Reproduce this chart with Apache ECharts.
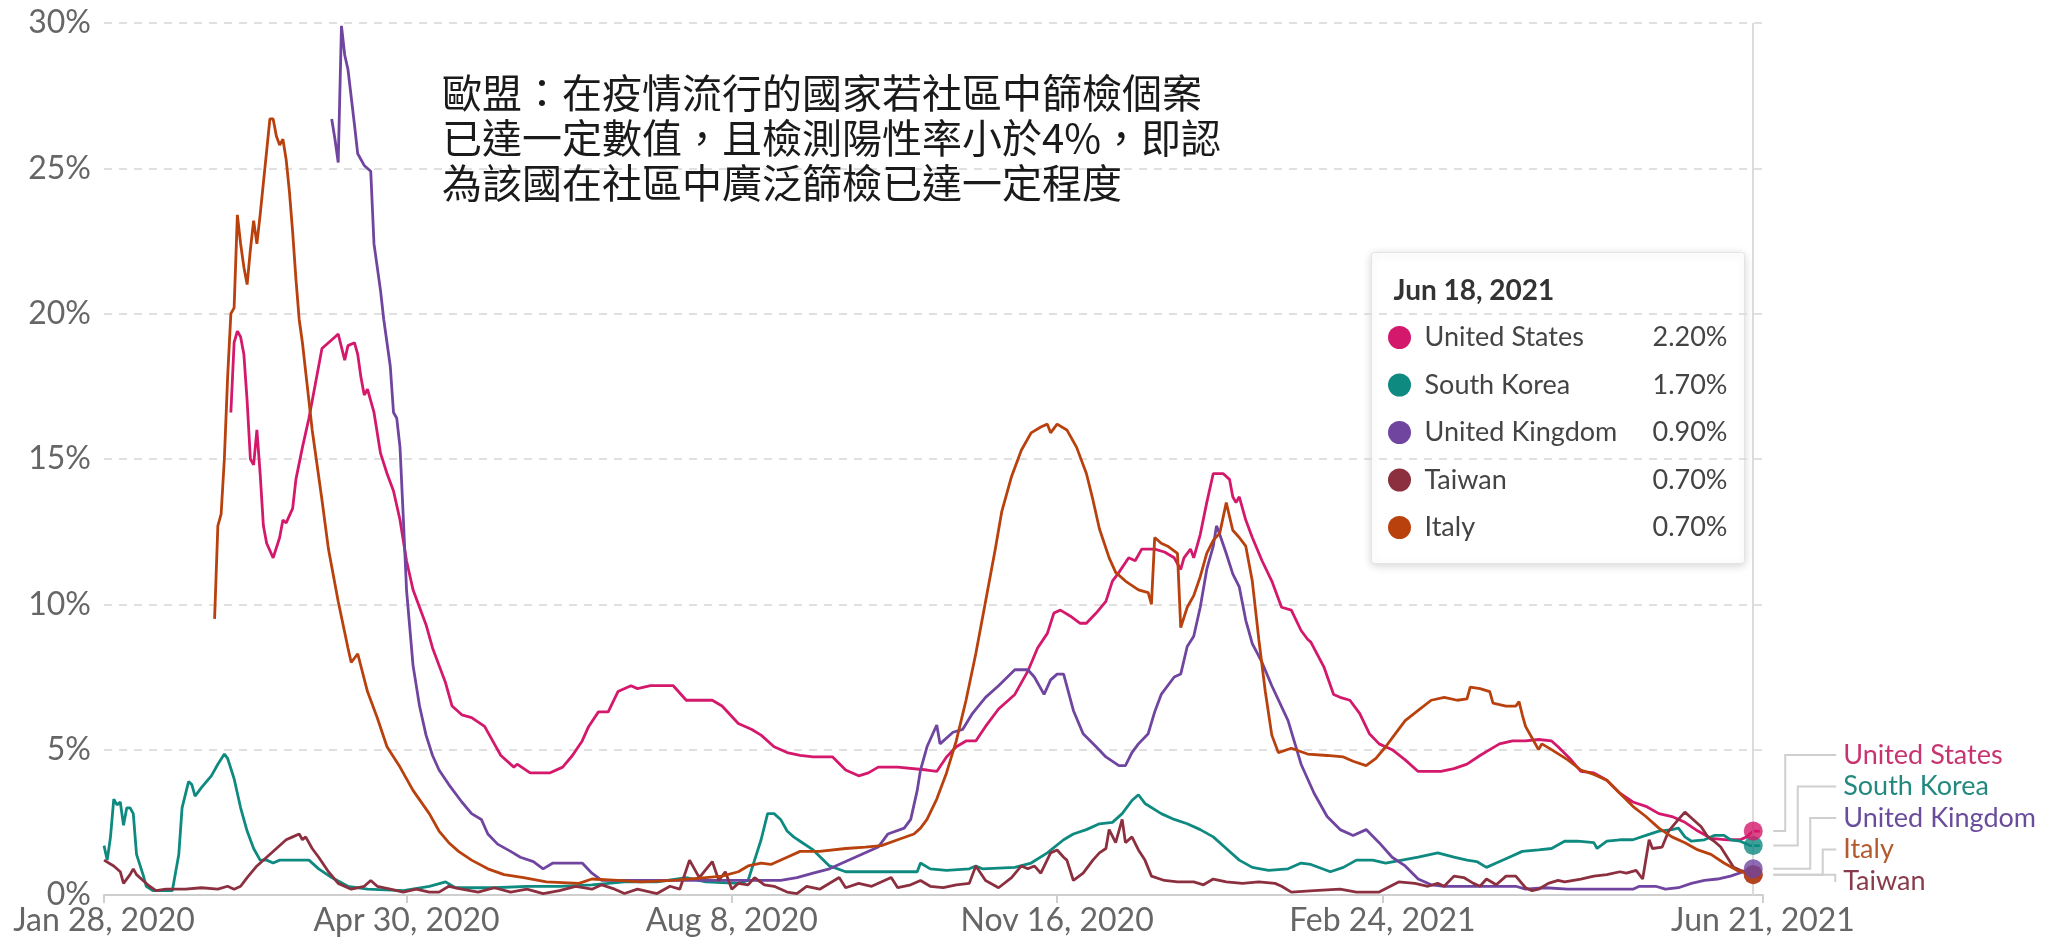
<!DOCTYPE html>
<html lang="zh-TW"><head><meta charset="utf-8">
<script src="https://cdn.jsdelivr.net/npm/echarts@6/dist/echarts.min.js"></script>
<style>html,body{margin:0;padding:0;background:#fff}#chart{width:2051px;height:946px}</style>
</head><body><div id="chart"></div>
<script>
// ---- data (day = days since Jan 28, 2020; value = share of tests positive, %) ----
const startDate = Date.UTC(2020, 0, 28);
const DAY = 86400000;
const countries = ['United States', 'South Korea', 'United Kingdom', 'Taiwan', 'Italy'];
const seriesColors = ['#d4186c', '#0e8a80', '#7045a0', '#8c3040', '#b8410e'];
const labelColors = ['#c8346f', '#23897f', '#6a4c9c', '#883b4b', '#b35a2f'];

const unitedStates = [[39,16.6],[40,19.0],[41,19.4],[42,19.2],[43,18.6],[44,17.0],[45,15.0],[46,14.8],[47,16.0],[48,14.5],[49,12.7],[50,12.1],[52,11.6],[54,12.3],[55,12.9],[56,12.8],[58,13.3],[59,14.3],[61,15.4],[63,16.4],[65,17.6],[67,18.8],[69,19.0],[71,19.2],[72,19.3],[74,18.4],[75,18.9],[77,19.0],[78,18.6],[79,17.8],[80,17.2],[81,17.4],[83,16.6],[85,15.2],[87,14.5],[89,13.9],[91,12.9],[93,11.5],[95,10.5],[97,9.9],[99,9.3],[101,8.5],[103,7.9],[105,7.3],[107,6.5],[110,6.2],[113,6.1],[117,5.8],[120,5.2],[122,4.8],[126,4.4],[127,4.5],[131,4.2],[137,4.2],[141,4.4],[144,4.8],[147,5.3],[149,5.8],[152,6.3],[155,6.3],[158,7.0],[162,7.2],[164,7.1],[168,7.2],[172,7.2],[175,7.2],[179,6.7],[187,6.7],[190,6.5],[195,5.9],[199,5.7],[202,5.5],[206,5.1],[210,4.9],[214,4.8],[218,4.75],[224,4.75],[228,4.3],[232,4.1],[235,4.2],[238,4.4],[244,4.4],[253,4.3],[256,4.25],[259,4.75],[262,5.1],[265,5.3],[268,5.3],[271,5.8],[275,6.4],[280,6.9],[284,7.7],[287,8.5],[290,9.0],[292,9.7],[294,9.8],[297,9.6],[300,9.35],[302,9.35],[305,9.7],[308,10.1],[310,10.8],[312,11.1],[315,11.6],[317,11.5],[319,11.9],[323,11.9],[326,11.8],[329,11.6],[331,11.2],[332,11.6],[334,11.9],[335,11.6],[337,12.4],[339,13.5],[341,14.5],[344,14.5],[346,14.3],[347,13.7],[348,13.5],[349,13.7],[351,12.9],[353,12.3],[356,11.5],[359,10.8],[362,9.9],[365,9.8],[368,9.1],[370,8.8],[371,8.7],[375,7.85],[378,6.9],[380,6.8],[383,6.7],[386,6.25],[389,5.55],[392,5.2],[396,5.0],[400,4.65],[404,4.25],[411,4.25],[415,4.35],[419,4.5],[423,4.8],[426,5.0],[429,5.2],[433,5.3],[437,5.3],[441,5.35],[445,5.3],[447,5.1],[451,4.65],[454,4.25],[458,4.2],[462,3.95],[466,3.5],[470,3.2],[474,3.05],[478,2.8],[482,2.7],[486,2.5],[490,2.2],[494,1.95],[499,1.9],[503,1.9],[505,2.0],[507,2.2],[509,2.2]];

const southKorea = [[0,1.7],[1,1.2],[2,2.0],[3,3.3],[4,3.1],[5,3.2],[6,2.4],[7,3.0],[8,3.0],[9,2.8],[10,1.4],[12,0.7],[13,0.3],[15,0.15],[21,0.15],[23,1.4],[24,3.0],[26,3.9],[27,3.8],[28,3.4],[30,3.7],[33,4.1],[35,4.5],[37,4.85],[38,4.7],[40,4.0],[42,3.0],[44,2.2],[46,1.6],[48,1.2],[50,1.2],[52,1.1],[54,1.2],[56,1.2],[60,1.2],[63,1.2],[66,0.9],[70,0.6],[75,0.3],[81,0.2],[92,0.15],[100,0.3],[105,0.45],[108,0.25],[120,0.25],[130,0.3],[140,0.3],[150,0.35],[160,0.45],[170,0.45],[179,0.6],[185,0.45],[195,0.4],[198,0.5],[200,1.2],[202,1.9],[204,2.8],[206,2.8],[208,2.6],[210,2.2],[212,2.0],[214,1.85],[218,1.55],[223,1.0],[228,0.8],[240,0.8],[250,0.8],[251,1.1],[254,0.9],[259,0.85],[266,0.9],[268,1.0],[270,0.9],[280,0.95],[285,1.1],[290,1.45],[295,1.9],[298,2.1],[302,2.25],[306,2.45],[310,2.5],[313,2.8],[316,3.25],[318,3.45],[320,3.15],[325,2.8],[329,2.6],[333,2.45],[337,2.25],[341,2.0],[345,1.6],[349,1.2],[353,0.95],[358,0.85],[364,0.9],[368,1.1],[371,1.05],[377,0.8],[381,0.95],[385,1.2],[390,1.2],[394,1.1],[399,1.2],[404,1.3],[410,1.45],[415,1.3],[419,1.2],[422,1.15],[425,0.95],[428,1.1],[432,1.3],[436,1.5],[441,1.55],[445,1.6],[449,1.85],[453,1.85],[458,1.8],[459,1.6],[462,1.85],[466,1.9],[470,1.9],[474,2.05],[478,2.2],[482,2.25],[484,2.3],[486,2.0],[488,1.85],[492,1.9],[495,2.05],[498,2.05],[500,1.9],[503,1.85],[506,1.7],[507,1.7],[509,1.7]];

const unitedKingdom = [[70,26.7],[71,26.0],[72,25.2],[73,29.9],[74,28.9],[75,28.4],[77,26.5],[78,25.5],[80,25.1],[82,24.9],[83,22.4],[85,20.8],[86,19.8],[88,18.2],[89,16.6],[90,16.4],[91,15.4],[92,13.0],[93,10.5],[94,9.2],[95,7.9],[97,6.5],[99,5.5],[101,4.8],[103,4.3],[106,3.8],[110,3.2],[113,2.8],[116,2.6],[118,2.1],[121,1.75],[125,1.5],[128,1.3],[132,1.15],[135,0.9],[138,1.1],[147,1.1],[150,0.75],[153,0.5],[165,0.5],[180,0.5],[200,0.5],[208,0.5],[213,0.6],[218,0.75],[223,0.9],[228,1.15],[233,1.4],[238,1.65],[241,2.1],[246,2.3],[248,2.6],[250,3.6],[251,4.3],[253,5.1],[255,5.6],[256,5.85],[257,5.2],[261,5.6],[264,5.7],[267,6.25],[271,6.8],[275,7.2],[280,7.75],[284,7.75],[286,7.5],[289,6.9],[291,7.4],[293,7.6],[295,7.6],[298,6.35],[301,5.55],[305,5.1],[308,4.75],[312,4.45],[314,4.45],[316,4.9],[318,5.2],[321,5.55],[323,6.3],[325,6.9],[329,7.5],[331,7.6],[333,8.55],[335,8.9],[337,9.9],[339,11.2],[341,12.0],[342,12.7],[343,12.4],[345,11.75],[347,11.05],[349,10.6],[351,9.45],[353,8.65],[356,8.0],[359,7.2],[364,6.0],[368,4.5],[372,3.5],[376,2.7],[380,2.25],[384,2.05],[388,2.25],[392,1.8],[396,1.3],[400,1.0],[404,0.55],[408,0.35],[412,0.3],[434,0.3],[437,0.2],[443,0.25],[450,0.2],[470,0.2],[472,0.3],[477,0.3],[480,0.2],[484,0.25],[488,0.4],[492,0.5],[496,0.55],[500,0.65],[504,0.8],[507,0.9],[509,0.9]];

const taiwan = [[0,1.2],[3,1.0],[5,0.8],[6,0.4],[8,0.7],[9,0.9],[10,0.7],[12,0.5],[14,0.3],[16,0.15],[19,0.2],[25,0.2],[30,0.25],[35,0.2],[38,0.3],[40,0.2],[42,0.3],[44,0.6],[47,1.0],[50,1.3],[53,1.6],[56,1.9],[58,2.0],[60,2.1],[61,1.9],[62,2.0],[64,1.6],[66,1.3],[69,0.8],[72,0.4],[76,0.2],[80,0.3],[82,0.5],[84,0.3],[88,0.2],[92,0.1],[96,0.2],[100,0.1],[103,0.1],[106,0.3],[110,0.2],[115,0.1],[120,0.25],[125,0.1],[130,0.2],[135,0.05],[140,0.15],[145,0.3],[150,0.2],[153,0.35],[157,0.2],[160,0.05],[164,0.2],[170,0.05],[174,0.3],[177,0.2],[180,1.2],[183,0.6],[187,1.15],[189,0.5],[191,0.8],[193,0.2],[195,0.4],[198,0.35],[200,0.6],[203,0.35],[206,0.3],[210,0.1],[213,0.05],[216,0.3],[220,0.2],[226,0.6],[228,0.25],[232,0.4],[236,0.3],[242,0.6],[244,0.25],[248,0.35],[251,0.5],[254,0.3],[258,0.25],[262,0.35],[266,0.4],[268,1.0],[271,0.5],[275,0.25],[279,0.6],[282,1.0],[284,0.9],[286,1.0],[288,0.75],[291,1.45],[293,1.55],[295,1.3],[296,1.2],[298,0.5],[301,0.75],[304,1.2],[306,1.45],[308,1.6],[309,2.25],[311,1.8],[313,2.6],[314,1.8],[316,2.0],[318,1.55],[320,1.2],[322,0.65],[326,0.5],[330,0.45],[335,0.45],[338,0.35],[341,0.55],[345,0.45],[350,0.4],[355,0.45],[360,0.4],[362,0.3],[365,0.1],[372,0.15],[380,0.2],[385,0.1],[392,0.1],[398,0.45],[403,0.4],[407,0.3],[410,0.4],[412,0.3],[415,0.65],[418,0.6],[421,0.4],[423,0.3],[425,0.55],[428,0.35],[431,0.65],[434,0.65],[437,0.25],[439,0.15],[441,0.2],[444,0.4],[447,0.5],[449,0.45],[454,0.55],[458,0.65],[462,0.7],[466,0.8],[468,0.75],[471,0.85],[473,0.55],[475,1.9],[476,1.6],[479,1.65],[481,2.2],[484,2.6],[486,2.85],[488,2.65],[491,2.35],[493,2.0],[495,1.85],[497,1.65],[499,1.3],[501,0.95],[503,0.85],[506,0.75],[507,0.7],[509,0.7]];

const italy = [[34,9.5],[35,12.7],[36,13.1],[37,15.0],[38,17.8],[39,20.0],[40,20.2],[41,23.4],[42,22.4],[43,21.6],[44,21.0],[45,22.2],[46,23.2],[47,22.4],[48,23.4],[49,24.5],[50,25.6],[51,26.7],[52,26.7],[53,26.1],[54,25.8],[55,26.0],[56,25.3],[57,24.2],[58,22.8],[59,21.2],[60,19.8],[61,19.0],[62,18.0],[64,16.0],[67,13.6],[69,11.9],[72,10.1],[75,8.5],[76,8.0],[78,8.3],[81,7.0],[84,6.1],[87,5.1],[91,4.4],[95,3.6],[100,2.8],[103,2.2],[106,1.8],[109,1.5],[113,1.2],[118,0.9],[123,0.7],[129,0.6],[136,0.45],[146,0.4],[150,0.55],[158,0.5],[165,0.45],[175,0.5],[185,0.6],[190,0.65],[195,0.8],[198,1.0],[202,1.1],[205,1.05],[210,1.3],[214,1.5],[220,1.5],[228,1.6],[234,1.65],[239,1.7],[244,1.9],[249,2.1],[251,2.3],[253,2.6],[256,3.3],[259,4.2],[262,5.3],[265,6.7],[268,8.3],[271,10.1],[274,11.9],[276,13.2],[279,14.4],[282,15.3],[285,15.9],[288,16.1],[290,16.2],[291,15.9],[293,16.2],[296,16.0],[299,15.4],[302,14.5],[304,13.6],[306,12.6],[309,11.6],[311,11.1],[314,10.8],[318,10.5],[321,10.4],[322,10.0],[323,12.3],[325,12.1],[327,12.0],[330,11.75],[331,9.2],[333,9.9],[335,10.3],[337,10.95],[339,11.75],[341,12.2],[343,12.45],[345,13.5],[347,12.55],[349,12.3],[351,12.0],[353,10.8],[355,8.8],[357,7.0],[359,5.5],[361,4.9],[365,5.05],[370,4.85],[376,4.8],[381,4.75],[384,4.6],[388,4.45],[391,4.7],[394,5.1],[397,5.55],[400,6.0],[404,6.35],[408,6.7],[412,6.8],[416,6.7],[419,6.75],[420,7.15],[423,7.1],[426,7.0],[427,6.6],[431,6.5],[434,6.5],[435,6.65],[436,6.2],[437,5.8],[439,5.4],[441,5.0],[442,5.2],[445,5.0],[450,4.65],[454,4.3],[458,4.15],[462,3.95],[466,3.5],[470,3.05],[474,2.7],[478,2.3],[482,2.0],[486,1.8],[490,1.55],[494,1.4],[498,1.1],[502,0.85],[505,0.75],[507,0.7],[509,0.6]];

const seriesData = [unitedStates, southKorea, unitedKingdom, taiwan, italy];
// tick dates, as day offsets from Jan 28, 2020: Jan 28 2020, Apr 30 2020, Aug 8 2020, Nov 16 2020, Feb 24 2021, Jun 21 2021
const xTickDays = [0, 93, 193, 293, 393, 510];
const yTicks = [0, 5, 10, 15, 20, 25, 30];
const hoverDay = 507; // Jun 18, 2021
const tooltipOrder = ['United States', 'South Korea', 'United Kingdom', 'Taiwan', 'Italy'];
const endLabelOrder = ['United States', 'South Korea', 'United Kingdom', 'Italy', 'Taiwan'];
const annotationLines = ['歐盟：在疫情流行的國家若社區中篩檢個案', '已達一定數值，且檢測陽性率小於4%，即認', '為該國在社區中廣泛篩檢已達一定程度'];

// ---- helpers ----
const MONTHS = ['Jan','Feb','Mar','Apr','May','Jun','Jul','Aug','Sep','Oct','Nov','Dec'];
const dayToDate = d => new Date(startDate + Math.round(d) * DAY);
function fmtDay(day) { const d = dayToDate(day); return MONTHS[d.getUTCMonth()] + ' ' + d.getUTCDate() + ', ' + d.getUTCFullYear(); }
function valueAt(arr, day) { const p = arr.find(q => q[0] === day); return p ? p[1] : null; }

const chart = echarts.init(document.getElementById('chart'));
const GRID = { left: 104, right: 288, top: 23, bottom: 51 };
const FONT = 'Lato, "Noto Sans", sans-serif';
const CJK = '"Noto Sans CJK TC", "Noto Sans TC", "Noto Sans CJK JP", sans-serif';

const lineSeries = countries.map((name, i) => ({
  name, type: 'line', data: seriesData[i],
  showSymbol: false, symbol: 'none', silent: true, animation: false,
  lineStyle: { color: seriesColors[i], width: 2.8 }, itemStyle: { color: seriesColors[i] },
  z: 3 + i,
  markLine: i === 0 ? { silent: true, symbol: 'none', label: { show: false },
    lineStyle: { color: '#dcdcdc', width: 2, type: 'solid' }, data: [{ xAxis: hoverDay }] } : undefined
}));

// hover dots at Jun 18, 2021
const dotOrder = ['Taiwan', 'Italy', 'South Korea', 'United States', 'United Kingdom'];
const dotSeries = {
  type: 'scatter', silent: true, animation: false, z: 20, symbolSize: 19,
  data: dotOrder.map(name => {
    const i = countries.indexOf(name);
    return { name, value: [hoverDay, valueAt(seriesData[i], hoverDay)], itemStyle: { color: seriesColors[i] } };
  })
};

// end labels with elbow leader lines, placed from each series' last point via the axes
const endLabelSeries = {
  type: 'custom', silent: true, animation: false, clip: false, z: 15,
  data: endLabelOrder.map((name, rank) => [hoverDay, valueAt(seriesData[countries.indexOf(name)], hoverDay), rank]),
  renderItem: function (params, api) {
    const rank = api.value(2);
    const name = endLabelOrder[rank];
    const i = countries.indexOf(name);
    const pt = api.coord([api.value(0), api.value(1)]);
    const cs = params.coordSys;
    const bottomPx = cs.y + cs.height;
    const labelY = bottomPx - 14 - (endLabelOrder.length - 1 - rank) * 31.5;
    const cx = pt[0], cy = pt[1];
    const labelX = cx + 90;
    const elbowX = cx + 32 + rank * 12.5;
    return {
      type: 'group',
      children: [
        { type: 'polyline', shape: { points: [[cx + 20, cy], [elbowX, cy], [elbowX, labelY], [labelX - 7, labelY]] },
          style: { stroke: '#cfcfcf', lineWidth: 2, fill: null } },
        { type: 'text', x: labelX, y: labelY,
          style: { text: name, fill: labelColors[i], fontSize: 27, fontFamily: FONT, verticalAlign: 'middle', align: 'left' } }
      ]
    };
  }
};

// tooltip-like box built from the data arrays
const TB = { left: 1371, top: 252, width: 373, height: 311 };
const tipChildren = [
  { type: 'rect', shape: { x: 0, y: 0, width: TB.width, height: TB.height, r: 3 },
    style: { fill: '#fff', stroke: '#e4e4e4', lineWidth: 1, shadowBlur: 8, shadowColor: 'rgba(0,0,0,0.16)', shadowOffsetY: 2 } },
  { type: 'text', x: 22, y: 38, style: { text: fmtDay(hoverDay), fontSize: 28, fontWeight: 'bold', fontFamily: FONT, fill: '#333', verticalAlign: 'middle' } }
];
tooltipOrder.forEach((name, r) => {
  const i = countries.indexOf(name);
  const y = 85 + r * 47.5;
  tipChildren.push({ type: 'circle', shape: { cx: 28, cy: y, r: 11.5 }, style: { fill: seriesColors[i] } });
  tipChildren.push({ type: 'text', x: 53, y, style: { text: name, fontSize: 27, fontFamily: FONT, fill: '#444', verticalAlign: 'middle' } });
  tipChildren.push({ type: 'text', x: 356, y, style: { text: valueAt(seriesData[i], hoverDay).toFixed(2) + '%', fontSize: 27, fontFamily: FONT, fill: '#444', align: 'right', verticalAlign: 'middle' } });
});

chart.setOption({
  animation: false,
  backgroundColor: '#fff',
  grid: GRID,
  xAxis: {
    type: 'value', min: xTickDays[0], max: xTickDays[xTickDays.length - 1],
    axisLine: { show: true, onZero: false, lineStyle: { color: '#cfcfcf', width: 2 } },
    axisTick: { show: true, customValues: xTickDays, length: 8, lineStyle: { color: '#cfcfcf', width: 2 } },
    axisLabel: { customValues: xTickDays, formatter: v => fmtDay(v), fontSize: 32, color: '#666', fontFamily: FONT, margin: 10, showMinLabel: true, showMaxLabel: true },
    splitLine: { show: false }
  },
  yAxis: {
    type: 'value', min: yTicks[0], max: yTicks[yTicks.length - 1], interval: 5,
    axisLine: { show: false }, axisTick: { show: false },
    axisLabel: { formatter: '{value}%', fontSize: 32, color: '#666', fontFamily: FONT, margin: 13 },
    splitLine: { show: true, lineStyle: { color: '#d6d6d6', width: 1.5, type: [8, 7] } }
  },
  series: [...lineSeries, endLabelSeries, dotSeries],
  graphic: [
    { type: 'text', left: 442, top: 70, z: 50,
      style: { text: annotationLines.join('\n'), fontSize: 40, lineHeight: 45, fontFamily: CJK, fill: '#1a1a1a' } },
    { type: 'group', left: TB.left, top: TB.top, z: 60, children: tipChildren }
  ]
});
</script></body></html>
